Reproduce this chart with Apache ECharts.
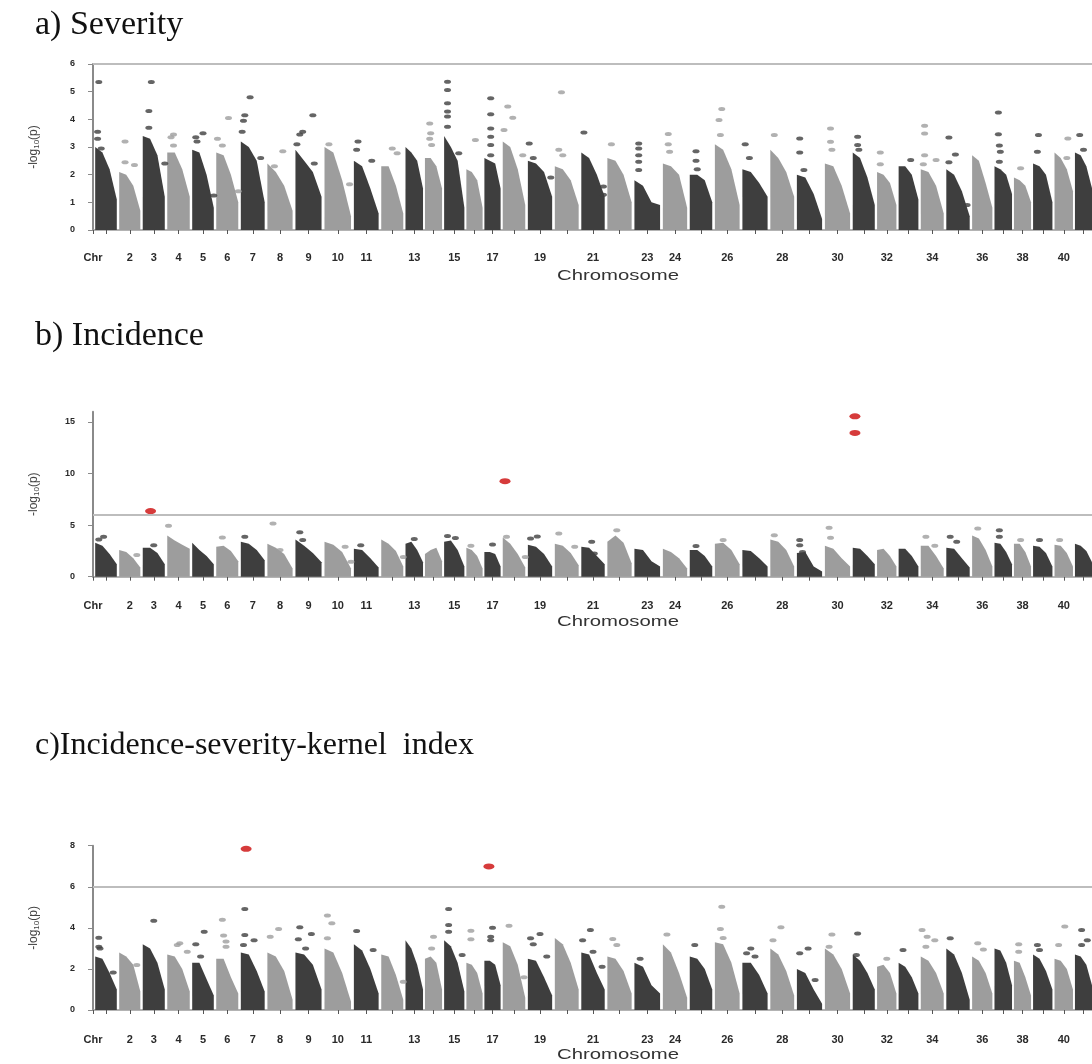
<!DOCTYPE html>
<html>
<head>
<meta charset="utf-8">
<script src="https://cdn.jsdelivr.net/npm/echarts@6/dist/echarts.min.js"></script>
<style>
  html, body { margin: 0; padding: 0; background: #ffffff; }
  #chart { width: 1092px; height: 1064px; }
</style>
</head>
<body>
<div id="chart"></div>
<script>
// Chromosome lengths (Mb) along the genome axis
const chrLength = [48,47,49,50,48,49,53,56,58,59,55,49,39,38,45,36,36,50,54,53,52,54,57,54,50,55,56,53,56,56,49,43,44,51,52,45,39,38,43,41,38];
const genomeStart = 2;
const genomeEnd = 2100;
// chromosomes that carry a number under their tick
const labelledChr = [2,3,4,5,6,7,8,9,10,11,13,15,17,19,21,23,24,26,28,30,32,34,36,38,40];

// -log10(p) envelope of the SNP cloud of each chromosome, left to right (4 points)
const severityProfile = [
  [3.0,2.8,2.2,1.1],[2.1,2.0,1.6,0.7],[3.4,3.3,2.7,1.2],[2.8,2.8,2.2,1.2],[2.9,2.8,2.0,0.8],
  [2.8,2.7,2.0,1.0],[3.2,3.0,2.5,1.0],[2.4,2.1,1.6,0.7],[2.9,2.5,2.1,1.2],[3.0,2.8,1.8,0.5],
  [2.5,2.3,1.5,0.6],[2.3,2.3,1.6,0.6],[3.0,2.8,2.5,1.5],[2.6,2.6,2.3,1.5],[3.4,3.0,2.5,0.8],
  [2.2,2.1,1.8,0.8],[2.6,2.5,2.4,1.5],[3.2,3.0,2.2,0.9],[2.5,2.4,2.1,1.2],[2.3,2.2,1.8,0.9],
  [2.8,2.6,2.0,1.2],[2.6,2.5,2.0,1.0],[1.8,1.6,1.0,0.9],[2.4,2.3,2.0,0.8],[2.0,2.0,1.8,1.0],
  [3.1,2.9,2.2,0.9],[2.2,2.1,1.7,1.2],[2.9,2.6,2.1,1.2],[2.0,1.9,1.3,0.4],[2.4,2.3,1.6,0.6],
  [2.8,2.6,1.9,0.9],[2.1,2.0,1.7,0.9],[2.3,2.3,2.0,1.1],[2.2,2.1,1.6,0.6],[2.2,2.0,1.4,0.5],
  [2.7,2.5,1.7,0.8],[2.3,2.2,2.0,1.3],[1.9,1.8,1.6,1.0],[2.4,2.3,2.0,1.0],[2.8,2.6,2.2,1.4],
  [2.8,2.7,2.3,1.5]
];
const incidenceProfile = [
  [3.3,3.0,2.2,1.2],[2.6,2.4,1.8,0.9],[2.8,2.8,2.3,1.2],[4.0,3.5,3.1,2.7],[3.3,2.6,2.0,1.2],
  [2.9,3.0,2.5,1.5],[3.4,3.2,2.6,1.6],[3.2,2.8,2.2,0.8],[3.6,3.0,2.3,1.4],[3.4,3.1,2.4,0.8],
  [2.7,2.6,1.8,0.9],[3.6,3.2,2.5,1.0],[3.2,3.4,2.6,1.4],[2.2,2.6,2.8,1.5],[3.4,3.5,2.6,1.0],
  [2.8,2.6,2.0,0.8],[2.4,2.4,2.2,1.0],[3.8,3.2,2.2,0.9],[3.1,2.9,2.2,1.0],[3.2,3.0,2.3,1.1],
  [2.9,2.8,2.0,1.2],[3.4,4.0,3.3,1.3],[2.7,2.6,1.5,1.0],[2.7,2.4,1.8,0.8],[2.6,2.6,2.0,1.0],
  [3.2,3.3,2.6,1.2],[2.6,2.5,1.8,1.0],[3.6,3.4,2.6,1.0],[2.3,2.4,1.0,0.5],[3.0,2.7,1.8,1.0],
  [2.8,2.7,2.0,1.2],[2.6,2.7,2.0,1.0],[2.7,2.7,2.0,1.0],[3.0,3.0,2.0,0.8],[2.8,2.7,1.8,0.9],
  [4.0,3.7,2.6,1.0],[3.3,3.2,2.4,1.2],[3.2,3.2,2.4,1.0],[3.0,2.9,2.3,1.0],[3.1,3.0,2.3,1.0],
  [3.2,3.0,2.5,1.4]
];
const kernelProfile = [
  [2.6,2.5,1.8,1.0],[2.8,2.6,2.2,0.9],[3.2,3.0,2.3,1.0],[2.7,2.6,2.0,0.9],[2.3,2.3,1.5,0.7],
  [2.5,2.5,1.6,0.8],[2.8,2.7,1.9,0.9],[2.8,2.6,1.9,0.5],[2.8,2.7,2.2,1.0],[3.0,2.8,1.8,0.4],
  [3.2,2.9,2.0,0.8],[2.7,2.6,1.7,0.5],[3.4,3.0,2.2,1.0],[2.5,2.6,2.3,1.0],[3.4,3.1,2.3,0.9],
  [2.3,2.2,1.8,0.8],[2.4,2.4,2.2,1.2],[3.3,3.1,2.2,0.6],[2.5,2.4,1.6,0.7],[3.5,3.2,2.3,1.0],
  [2.8,2.7,1.8,1.0],[2.6,2.5,1.9,0.8],[2.3,2.1,1.2,0.8],[3.2,2.8,1.8,0.6],[2.6,2.5,2.0,1.0],
  [3.3,3.2,2.3,0.8],[2.3,2.3,1.7,0.8],[3.0,2.7,1.9,0.7],[2.0,1.8,1.0,0.3],[3.0,2.7,2.0,0.8],
  [2.7,2.4,1.8,1.0],[2.1,2.2,1.8,0.8],[2.3,2.1,1.6,0.8],[2.6,2.4,1.8,0.8],[3.0,2.7,1.8,0.5],
  [2.6,2.4,1.8,0.8],[3.0,2.9,2.3,1.2],[2.4,2.3,1.6,0.7],[2.7,2.5,1.9,1.0],[2.5,2.4,2.0,1.0],
  [2.7,2.6,2.2,1.2]
];

// isolated SNPs above the cloud: [chromosome, relative position, -log10(p)]
const severityOutliers = [
  [1,0.2,5.35],[1,0.15,3.55],[1,0.15,3.3],[1,0.3,2.95],
  [2,0.3,3.2],[2,0.3,2.45],[2,0.7,2.35],
  [3,0.4,5.35],[3,0.3,4.3],[3,0.3,3.7],[3,0.95,2.4],
  [4,0.3,3.45],[4,0.2,3.35],[4,0.3,3.05],
  [5,0.5,3.5],[5,0.2,3.35],[5,0.25,3.2],[5,0.95,1.25],
  [6,0.55,4.05],[6,0.1,3.3],[6,0.3,3.05],[6,0.95,1.4],
  [7,0.4,4.8],[7,0.2,4.15],[7,0.15,3.95],[7,0.1,3.55],[7,0.8,2.6],
  [8,0.6,2.85],[8,0.3,2.3],
  [9,0.65,4.15],[9,0.3,3.55],[9,0.2,3.45],[9,0.1,3.1],[9,0.7,2.4],
  [10,0.2,3.1],[10,0.9,1.65],
  [11,0.2,3.2],[11,0.15,2.9],[11,0.7,2.5],
  [12,0.5,2.95],[12,0.7,2.77],
  [14,0.3,3.85],[14,0.35,3.5],[14,0.3,3.3],[14,0.4,3.07],
  [15,0.2,5.36],[15,0.2,5.06],[15,0.2,4.58],[15,0.2,4.28],[15,0.2,4.1],[15,0.2,3.73],[15,0.7,2.77],
  [16,0.55,3.25],
  [17,0.4,4.76],[17,0.4,4.18],[17,0.4,3.67],[17,0.4,3.37],[17,0.4,3.07],[17,0.4,2.7],
  [18,0.25,4.46],[18,0.45,4.06],[18,0.1,3.61],[18,0.85,2.7],
  [19,0.1,3.13],[19,0.25,2.6],[19,0.9,1.9],
  [20,0.3,4.98],[20,0.2,2.9],[20,0.35,2.7],
  [21,0.15,3.52],[21,0.9,1.57],[21,0.9,1.27],
  [22,0.2,3.1],
  [23,0.2,3.13],[23,0.2,2.95],[23,0.2,2.7],[23,0.2,2.47],[23,0.2,2.17],
  [24,0.25,3.47],[24,0.25,3.1],[24,0.3,2.83],
  [25,0.3,2.85],[25,0.3,2.5],[25,0.35,2.2],
  [26,0.3,4.37],[26,0.2,3.98],[26,0.25,3.43],
  [27,0.15,3.1],[27,0.3,2.6],
  [28,0.2,3.43],
  [29,0.15,3.31],[29,0.15,2.8],[29,0.3,2.17],
  [30,0.25,3.67],[30,0.25,3.19],[30,0.3,2.9],
  [31,0.25,3.37],[31,0.25,3.07],[31,0.3,2.9],
  [32,0.2,2.8],[32,0.2,2.38],
  [33,0.6,2.53],
  [34,0.2,3.77],[34,0.2,3.49],[34,0.2,2.7],[34,0.15,2.38],[34,0.65,2.53],
  [35,0.15,3.34],[35,0.4,2.73],[35,0.15,2.45],[35,0.85,0.9],
  [37,0.25,4.25],[37,0.25,3.46],[37,0.3,3.05],[37,0.35,2.83],[37,0.3,2.47],
  [38,0.4,2.23],
  [39,0.3,3.43],[39,0.25,2.83],
  [40,0.7,3.31],[40,0.65,2.6],
  [41,0.3,3.43],[41,0.5,2.9]
];
const incidenceOutliers = [
  [1,0.4,3.87],[1,0.2,3.6],
  [2,0.8,2.1],
  [3,0.5,3.06],
  [4,0.1,4.94],
  [6,0.3,3.8],
  [7,0.2,3.87],
  [8,0.25,5.16],[8,0.5,2.6],
  [9,0.2,4.3],[9,0.3,3.55],
  [10,0.75,2.9],[10,0.95,1.45],
  [11,0.3,3.06],
  [12,0.95,1.9],
  [13,0.5,3.65],
  [15,0.2,3.94],[15,0.55,3.75],
  [16,0.3,3.0],
  [17,0.5,3.13],
  [18,0.2,3.87],[18,0.95,1.9],
  [19,0.4,3.9],[19,0.15,3.7],
  [20,0.2,4.2],[20,0.8,2.9],
  [21,0.45,3.4],[21,0.55,2.26],
  [22,0.4,4.5],
  [25,0.3,2.97],
  [26,0.35,3.55],
  [28,0.2,4.03],
  [29,0.15,3.55],[29,0.15,3.06],[29,0.25,2.4],
  [30,0.2,4.74],[30,0.25,3.77],
  [34,0.25,3.87],[34,0.6,3.0],
  [35,0.2,3.87],[35,0.45,3.4],
  [36,0.3,4.68],
  [37,0.3,4.5],[37,0.3,3.87],
  [38,0.4,3.55],
  [39,0.35,3.55],
  [40,0.3,3.55]
];
const kernelOutliers = [
  [1,0.2,3.52],[1,0.2,3.08],[1,0.25,3.0],[1,0.8,1.82],
  [2,0.8,2.19],
  [3,0.5,4.35],
  [4,0.45,3.17],[4,0.55,3.25],[4,0.85,2.84],
  [5,0.55,3.81],[5,0.2,3.2],[5,0.4,2.6],
  [6,0.3,4.4],[6,0.35,3.63],[6,0.45,3.33],[6,0.45,3.08],
  [7,0.2,4.92],[7,0.2,3.65],[7,0.55,3.4],[7,0.15,3.16],
  [8,0.15,3.57],[8,0.45,3.95],
  [9,0.2,4.03],[9,0.15,3.44],[9,0.6,3.7],[9,0.4,3.0],
  [10,0.15,4.6],[10,0.3,4.22],[10,0.15,3.49],
  [11,0.15,3.85],[11,0.75,2.92],
  [12,0.95,1.38],
  [14,0.5,3.57],[14,0.4,3.0],
  [15,0.25,4.92],[15,0.25,4.14],[15,0.25,3.81],[15,0.85,2.68],
  [16,0.3,3.86],[16,0.3,3.44],
  [17,0.5,4.0],[17,0.4,3.57],[17,0.4,3.4],
  [18,0.3,4.1],[18,0.9,1.6],
  [19,0.5,3.7],[19,0.15,3.49],[19,0.25,3.2],[19,0.75,2.6],
  [21,0.4,3.9],[21,0.1,3.4],[21,0.5,2.84],[21,0.85,2.1],
  [22,0.25,3.46],[22,0.4,3.17],
  [23,0.25,2.5],
  [24,0.2,3.68],
  [25,0.25,3.17],
  [26,0.3,5.03],[26,0.25,3.95],[26,0.35,3.5],
  [27,0.35,3.0],[27,0.2,2.76],[27,0.5,2.6],
  [28,0.45,4.03],[28,0.15,3.4],
  [29,0.45,3.0],[29,0.15,2.76],[29,0.7,1.46],
  [30,0.3,3.68],[30,0.2,3.08],
  [31,0.25,3.73],[31,0.2,2.68],
  [32,0.5,2.5],
  [33,0.25,2.92],
  [34,0.1,3.9],[34,0.3,3.57],[34,0.6,3.4],[34,0.25,3.08],
  [35,0.2,3.49],
  [36,0.3,3.25],[36,0.55,2.95],
  [38,0.3,3.2],[38,0.3,2.84],
  [39,0.25,3.17],[39,0.35,2.92],
  [40,0.55,4.06],[40,0.25,3.17],
  [41,0.4,3.9],[41,0.4,3.17],[41,0.7,3.4]
];

// SNPs passing the genome-wide threshold
const severityHits = [];
const incidenceHits = [[3,0.37,6.36],[18,0.14,9.26],[31,0.14,15.55],[31,0.14,13.94]];
const kernelHits = [[7,0.25,7.85],[17,0.3,6.99]];

const threshold = 6;

const panelTitles = ['a) Severity', 'b) Incidence', 'c)Incidence-severity-kernel  index'];
const yMax = [6, 16, 8];
const yTicks = [[0,1,2,3,4,5,6],[0,5,10,15],[0,2,4,6,8]];

// ---- layout / style ----
const DARK = '#3e3e3e';
const LIGHT = '#9d9d9d';
const HIT = '#cc0a0a';
const grids = [
  { top: 64,    height: 166,   axisOffset: 14, titleY: 25,  titleSize: 34, xNameY: 276 },
  { top: 411.7, height: 165,   axisOffset: 16, titleY: 336, titleSize: 34, xNameY: 622 },
  { top: 845.7, height: 164.3, axisOffset: 16, titleY: 746, titleSize: 32, xNameY: 1055 }
];

// chromosome starts and tick positions
const chrStart = [];
{
  let p = genomeStart;
  chrLength.forEach(function (l) { chrStart.push(p); p += l; });
}
const chrCenter = chrLength.map(function (l, i) { return chrStart[i] + l / 2; });
const tickValues = [0].concat(chrCenter);
const labelValues = [0].concat(labelledChr.map(function (c) { return chrCenter[c - 1]; }));
const labelText = {};
labelText['0'] = 'Chr';
labelledChr.forEach(function (c) { labelText[String(chrCenter[c - 1])] = String(c); });

function snpPoints(list) {
  return list.map(function (d) {
    const i = d[0] - 1;
    return [chrStart[i] + d[1] * chrLength[i], d[2], i];
  });
}

function columnData(profile) {
  return profile.map(function (h, i) {
    return [chrStart[i], chrStart[i] + chrLength[i], h[0], h[1], h[2], h[3], i];
  });
}

function renderColumn(params, api) {
  const s = api.value(0), e = api.value(1);
  const pad = (e - s) * 0.05;
  const a = s + pad, b = e - pad, w = (b - a) / 3;
  const xs = [a, a + w, a + 2 * w, b];
  const pts = [api.coord([a, 0])];
  for (let k = 0; k < 4; k++) pts.push(api.coord([xs[k], api.value(2 + k)]));
  pts.push(api.coord([b, 0]));
  return {
    type: 'polygon',
    shape: { points: pts },
    style: { fill: api.value(6) % 2 ? LIGHT : DARK }
  };
}

const profiles = [severityProfile, incidenceProfile, kernelProfile];
const outliers = [severityOutliers, incidenceOutliers, kernelOutliers];
const hits = [severityHits, incidenceHits, kernelHits];

const option = {
  backgroundColor: '#ffffff',
  animation: false,
  grid: grids.map(function (g) {
    return { left: 93, width: 1050, top: g.top, height: g.height, outerBoundsMode: 'none', containLabel: false };
  }),
  xAxis: grids.map(function (g, i) {
    return {
      gridIndex: i, type: 'value', min: 0, max: genomeEnd,
      offset: g.axisOffset,
      axisLine: { show: true, lineStyle: { color: '#9a9a9a', width: 1.5 } },
      axisTick: { show: true, customValues: tickValues, length: 4, lineStyle: { color: '#555', width: 1 } },
      axisLabel: {
        customValues: labelValues, margin: 8,
        fontFamily: 'Liberation Sans', fontSize: 11, fontWeight: 'bold', color: '#2a2a2a',
        formatter: function (v) { return labelText[String(v)] || ''; }
      },
      splitLine: { show: false }
    };
  }),
  yAxis: grids.map(function (g, i) {
    return {
      gridIndex: i, type: 'value', min: 0, max: yMax[i],
      name: '{t|-log}{s|10}{t|(p)}',
      nameLocation: 'middle', nameRotate: 90, nameGap: 52,
      nameTextStyle: {
        rich: {
          t: { fontFamily: 'Liberation Sans', fontSize: 12, color: '#444' },
          s: { fontFamily: 'Liberation Sans', fontSize: 8, color: '#444', verticalAlign: 'bottom', padding: [6, 0, 0, 0] }
        }
      },
      axisLine: { show: true, lineStyle: { color: '#8a8a8a', width: 2 } },
      axisTick: { show: true, customValues: yTicks[i], length: 5, lineStyle: { color: '#8a8a8a', width: 1 } },
      axisLabel: {
        customValues: yTicks[i], margin: 18,
        fontFamily: 'Liberation Sans', fontSize: 9, fontWeight: 'bold', color: '#2a2a2a'
      },
      splitLine: { show: false }
    };
  }),
  series: [],
  graphic: []
};

grids.forEach(function (g, i) {
  option.series.push({
    type: 'custom', xAxisIndex: i, yAxisIndex: i,
    data: columnData(profiles[i]),
    encode: { x: [0, 1], y: [2, 3, 4, 5] },
    renderItem: renderColumn,
    silent: true, z: 2
  });
  option.series.push({
    type: 'scatter', xAxisIndex: i, yAxisIndex: i,
    data: snpPoints(outliers[i]),
    symbol: 'circle', symbolSize: [7, 4],
    itemStyle: { color: function (p) { return p.data[2] % 2 ? LIGHT : DARK; } },
    silent: true, z: 3,
    markLine: {
      silent: true, symbol: 'none', animation: false,
      label: { show: false },
      lineStyle: { color: '#bdbdbd', width: 2, type: 'solid' },
      data: [{ yAxis: threshold }]
    }
  });
  option.series.push({
    type: 'scatter', xAxisIndex: i, yAxisIndex: i,
    data: snpPoints(hits[i]),
    symbol: 'circle', symbolSize: [11, 6],
    itemStyle: { color: HIT },
    silent: true, z: 4
  });
  option.graphic.push({
    type: 'text', x: 35, y: g.titleY,
    style: {
      text: panelTitles[i], font: g.titleSize + 'px "Liberation Serif"', fill: '#111',
      align: 'left', verticalAlign: 'middle'
    }
  });
  // axis title, drawn slightly wide as on the printed figure
  option.graphic.push({
    type: 'text', x: 618, y: g.xNameY, scaleX: 1.45,
    style: { text: 'Chromosome', font: '14px "Liberation Sans"', fill: '#333', align: 'center', verticalAlign: 'middle' }
  });
});

const chart = echarts.init(document.getElementById('chart'), null, { renderer: 'canvas' });
chart.setOption(option);
</script>
</body>
</html>
